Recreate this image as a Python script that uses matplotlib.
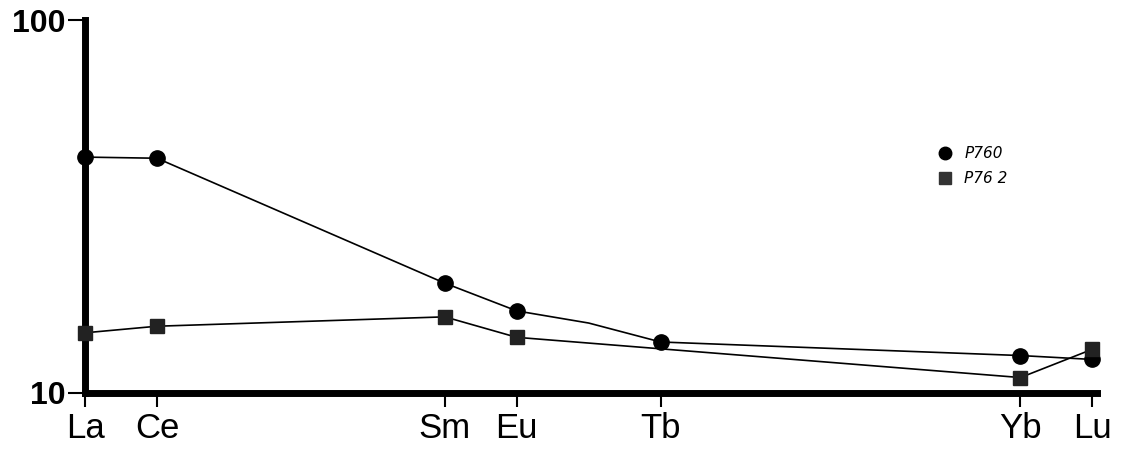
import numpy as np
import matplotlib.pyplot as plt

# Chondrite-normalised REE abundances
elements = ['La', 'Ce', 'Sm', 'Eu', 'Tb', 'Yb', 'Lu']
atomic_no = [57, 58, 62, 63, 65, 70, 71]

p760 = [42.9, 42.6, 19.7, 16.6, 13.7, 12.6, 12.3]
p762 = [14.5, 15.1, 16.0, 14.1, np.nan, 11.0, 13.1]

# P760 line is bent through a Gd value between Eu and Tb
p760_line_x = [57, 58, 62, 63, 64, 65, 70, 71]
p760_line_y = [42.9, 42.6, 19.7, 16.6, 15.4, 13.7, 12.6, 12.3]

fig = plt.figure(figsize=(11.26, 4.55), dpi=100, facecolor='white')
ax = fig.add_axes([0.0755, 0.1363, 0.8985, 0.8197])

ax.plot(p760_line_x, p760_line_y, color='black', lw=1.2, zorder=2, clip_on=False)
ax.plot(atomic_no, p760, 'o', color='black', ms=11, zorder=3, clip_on=False)

sq_x = [x for x, v in zip(atomic_no, p762) if not np.isnan(v)]
sq_y = [v for v in p762 if not np.isnan(v)]
ax.plot(sq_x, sq_y, color='black', lw=1.2, zorder=2, clip_on=False)
ax.plot(sq_x, sq_y, 's', color='#222222', ms=10, zorder=4, clip_on=False)

ax.set_yscale('log')
ax.set_ylim(10, 100)
ax.set_xlim(57, 71.06)

ax.set_yticks([10, 100])
ax.set_yticklabels(['10', '100'], fontsize=23, family='Liberation Sans',
                   fontweight='bold')
ax.yaxis.set_minor_locator(plt.NullLocator())
ax.tick_params(axis='y', length=12, width=1.5, pad=2)

ax.set_xticks(atomic_no)
ax.set_xticklabels(elements, fontsize=25, family='Liberation Sans')
ax.tick_params(axis='x', length=10, width=1.5, pad=4)

for side in ['top', 'right']:
    ax.spines[side].set_visible(False)
ax.spines['left'].set_linewidth(5)
ax.spines['bottom'].set_linewidth(5)

# legend, hand-lettered style
ax.plot([0.85], [0.643], 'o', color='black', ms=9, transform=ax.transAxes, clip_on=False)
ax.text(0.869, 0.643, 'P760', transform=ax.transAxes, fontsize=11,
        style='italic', va='center', ha='left')
ax.plot([0.85], [0.576], 's', color='#333333', ms=8, transform=ax.transAxes, clip_on=False)
ax.text(0.869, 0.576, 'P76 2', transform=ax.transAxes, fontsize=11,
        style='italic', va='center', ha='left')

fig.savefig('out.png', dpi=100)
